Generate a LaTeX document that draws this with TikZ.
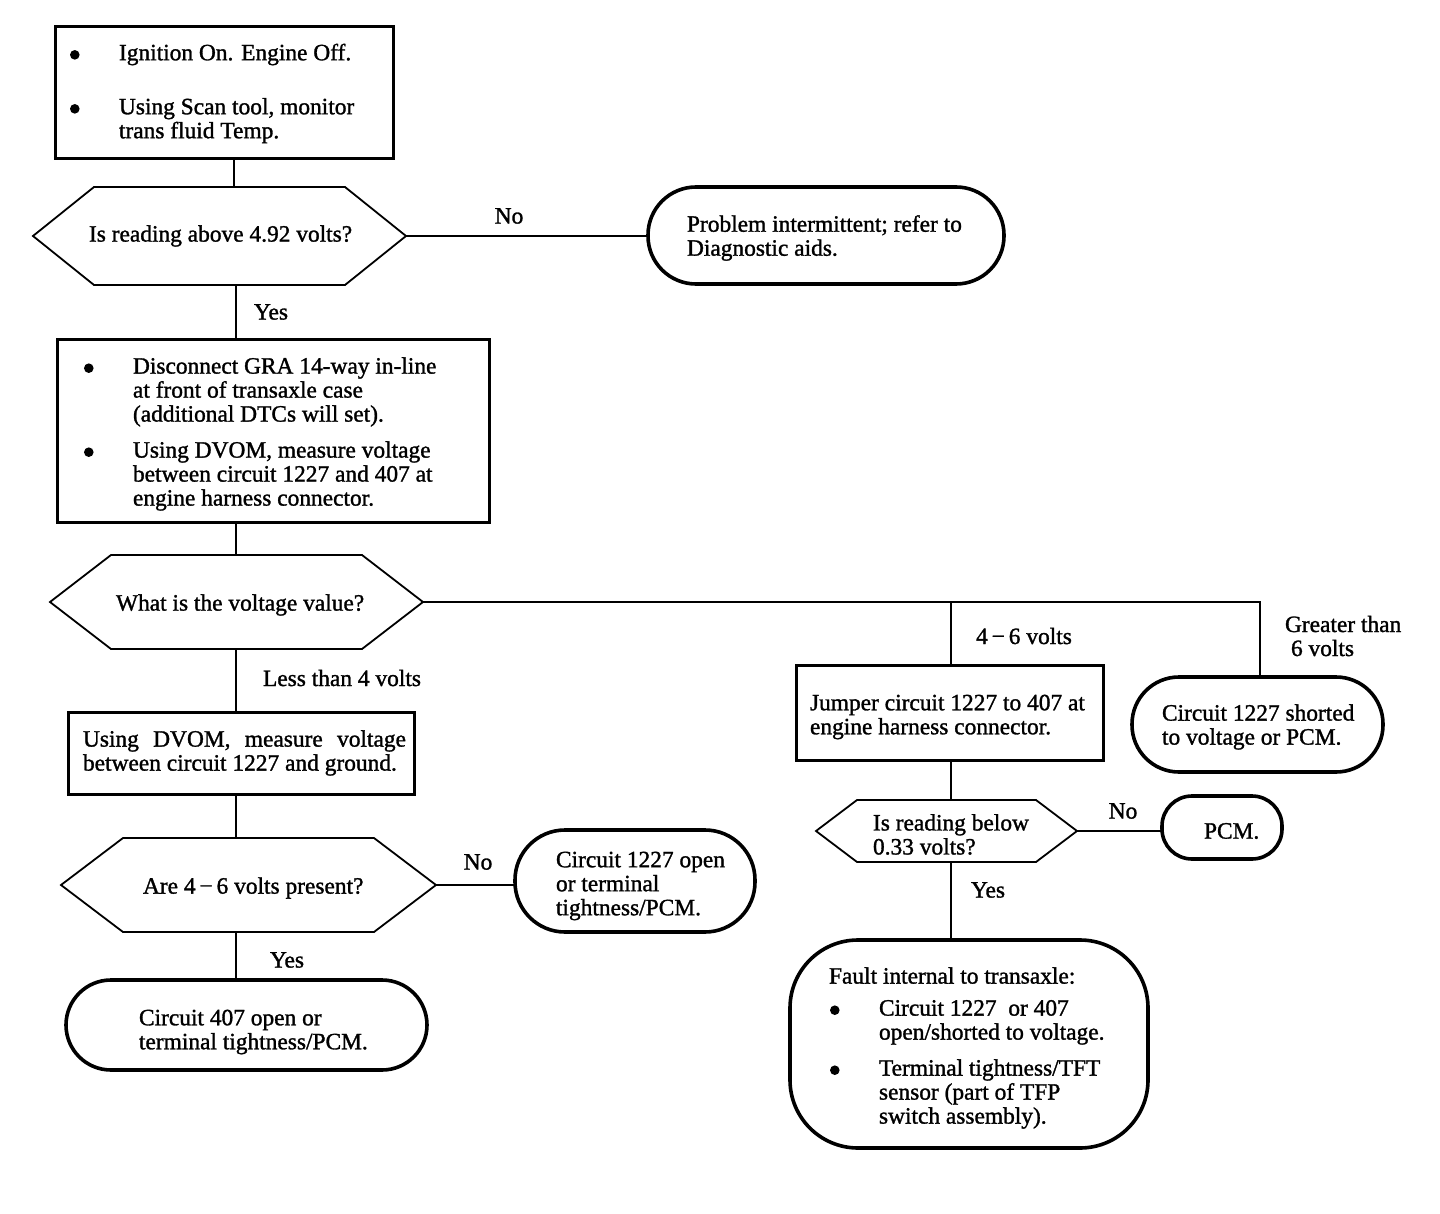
\documentclass[tikz,border=0pt]{standalone}
\usepackage{fontspec}
\setmainfont[FakeBold=1.3]{Liberation Serif}
\usetikzlibrary{calc}
\newcommand\bul{\makebox[25pt][l]{\hspace*{0.5pt}\tikz[baseline=0pt]\fill (0pt,2.7pt) circle[radius=2.4pt];}}
\newcommand\ind{\hspace*{25pt}}
\newcommand\hexpath[2]{\draw[hexline] (#1.west) -- ([xshift=#2]#1.north west) -- ([xshift=-#2]#1.north east) -- (#1.east) -- ([xshift=-#2]#1.south east) -- ([xshift=#2]#1.south west) -- cycle;}
\begin{document}
\begin{tikzpicture}[x=0.5pt,y=-0.5pt,
  every node/.style={font=\fontsize{11.7}{12}\selectfont, inner sep=0pt, outer sep=0pt},
  stepbox/.style={draw, line width=1.5pt},
  hexnode/.style={},
  hexline/.style={line width=0.9pt},
  oval/.style={draw, line width=1.8pt, rounded corners=#1},
  conn/.style={line width=1pt},
  txt/.style={anchor=west, align=left, yshift=-1pt},
  lbl/.style={align=left}]
\path[use as bounding box, fill=white] (0,0) rectangle (1440,1214);

% column coordinates
\coordinate (cA) at (234,0);
\coordinate (cB) at (236,0);
\coordinate (cM) at (951,0);
\coordinate (cR) at (1260,0);

% shapes
\node[stepbox, minimum width=169pt, minimum height=66pt] (box1) at (224,93) {};
\node[hexnode, minimum width=186.5pt, minimum height=49pt] (hex1) at (219.5,236) {};
\hexpath{hex1}{30.5pt}
\node[oval=24pt, minimum width=178pt, minimum height=48.5pt] (oval1) at (826,235.5) {};
\node[stepbox, minimum width=216pt, minimum height=91.5pt] (box2) at (273,430.5) {};
\node[hexnode, minimum width=186.5pt, minimum height=47pt] (hex2) at (236.5,602) {};
\hexpath{hex2}{30.5pt}
\node[stepbox, minimum width=173pt, minimum height=41pt] (box3) at (241,753) {};
\node[hexnode, minimum width=187.5pt, minimum height=47pt] (hex3) at (248.5,885) {};
\hexpath{hex3}{31pt}
\node[oval=25pt, minimum width=120pt, minimum height=51pt] (oval3) at (635,881) {};
\node[oval=22.5pt, minimum width=180.5pt, minimum height=45pt] (oval4) at (246.5,1025) {};
\node[stepbox, minimum width=153.5pt, minimum height=47.5pt] (box4) at (949.5,712.5) {};
\node[oval=23.5pt, minimum width=125.5pt, minimum height=47.5pt] (oval2) at (1257.5,724.5) {};
\node[hexnode, minimum width=130.5pt, minimum height=31pt] (hex4) at (946.5,831) {};
\hexpath{hex4}{20.5pt}
\node[oval=15pt, minimum width=60pt, minimum height=31.5pt] (pcm) at (1222,827.5) {};
\node[oval=34pt, minimum width=179pt, minimum height=104pt] (big) at (969,1044) {};

% texts
\node[txt] (box1-t) at (69,91.5)
  {\bul Ignition On. Engine Off.\\[15pt]
   \bul Using Scan tool, monitor\\
   \ind trans fluid Temp.};
\node[txt] (hex1-t) at (89,234) {Is reading above 4.92 volts?};
\node[txt] (oval1-t) at (687,236) {Problem intermittent; refer to\\Diagnostic aids.};
\node[txt] (box2-t) at (83,432)
  {\bul Disconnect GRA 14-way in-line\\
   \ind at front of transaxle case\\
   \ind (additional DTCs will set).\\[6pt]
   \bul Using DVOM, measure voltage\\
   \ind between circuit 1227 and 407 at\\
   \ind engine harness connector.};
\node[txt] (hex2-t) at (116,603) {What is the voltage value?};
\node[txt] (box3-t) at (83,751)
  {\makebox[161.5pt][s]{Using DVOM, measure voltage}\\
   between circuit 1227 and ground.};
\node[txt] (hex3-t) at (143,886) {Are 4\,−\,6 volts present?};
\node[txt] (oval3-t) at (556,884) {Circuit 1227 open\\or terminal\\tightness/PCM.};
\node[txt] (oval4-t) at (139,1030) {Circuit 407 open or\\terminal tightness/PCM.};
\node[txt] (box4-t) at (810,715) {Jumper circuit 1227 to 407 at\\engine harness connector.};
\node[txt] (oval2-t) at (1162,725) {Circuit 1227 shorted\\to voltage or PCM.};
\node[txt] (hex4-t) at (873,832.5) {Is reading below\\0.33 volts?};
\node[txt] (pcm-t) at (1204,829) {PCM.};
\node[txt] (big-t) at (829,1046)
  {Fault internal to transaxle:\\[4pt]
   \bul Circuit 1227\ \ or 407\\
   \ind open/shorted to voltage.\\[6pt]
   \bul Terminal tightness/TFT\\
   \ind sensor (part of TFP\\
   \ind switch assembly).};

% connectors
\draw[conn] (box1.south -| cA) -- (hex1.north -| cA);
\draw[conn] (hex1.east) -- (hex1.east -| oval1.west);
\draw[conn] (hex1.south -| cB) -- (box2.north -| cB);
\draw[conn] (box2.south -| cB) -- (hex2.north -| cB);
\draw[conn] (hex2.east) -- (hex2.east -| cR) -- (oval2.north -| cR);
\draw[conn] (hex2.east -| cM) -- (box4.north -| cM);
\draw[conn] (hex2.south -| cB) -- (box3.north -| cB);
\draw[conn] (box3.south -| cB) -- (hex3.north -| cB);
\draw[conn] (hex3.east) -- (hex3.east -| oval3.west);
\draw[conn] (hex3.south -| cB) -- (oval4.north -| cB);
\draw[conn] (box4.south -| cM) -- (hex4.north -| cM);
\draw[conn] (hex4.east) -- (hex4.east -| pcm.west);
\draw[conn] (hex4.south -| cM) -- (big.north -| cM);

% labels
\node[lbl] (l1) at (509,216) {No};
\node[lbl] (l2) at (271,312) {Yes};
\node[lbl] (l3) at (342,678) {Less than 4 volts};
\node[lbl] (l4) at (1024,636) {4\,−\,6 volts};
\node[lbl, anchor=west] (l5) at (1285,636) {Greater than\\\hspace*{3pt}6 volts};
\node[lbl] (l6) at (478,862) {No};
\node[lbl] (l7) at (287,960) {Yes};
\node[lbl] (l8) at (1123,811) {No};
\node[lbl] (l9) at (988,890) {Yes};
\end{tikzpicture}
\end{document}
